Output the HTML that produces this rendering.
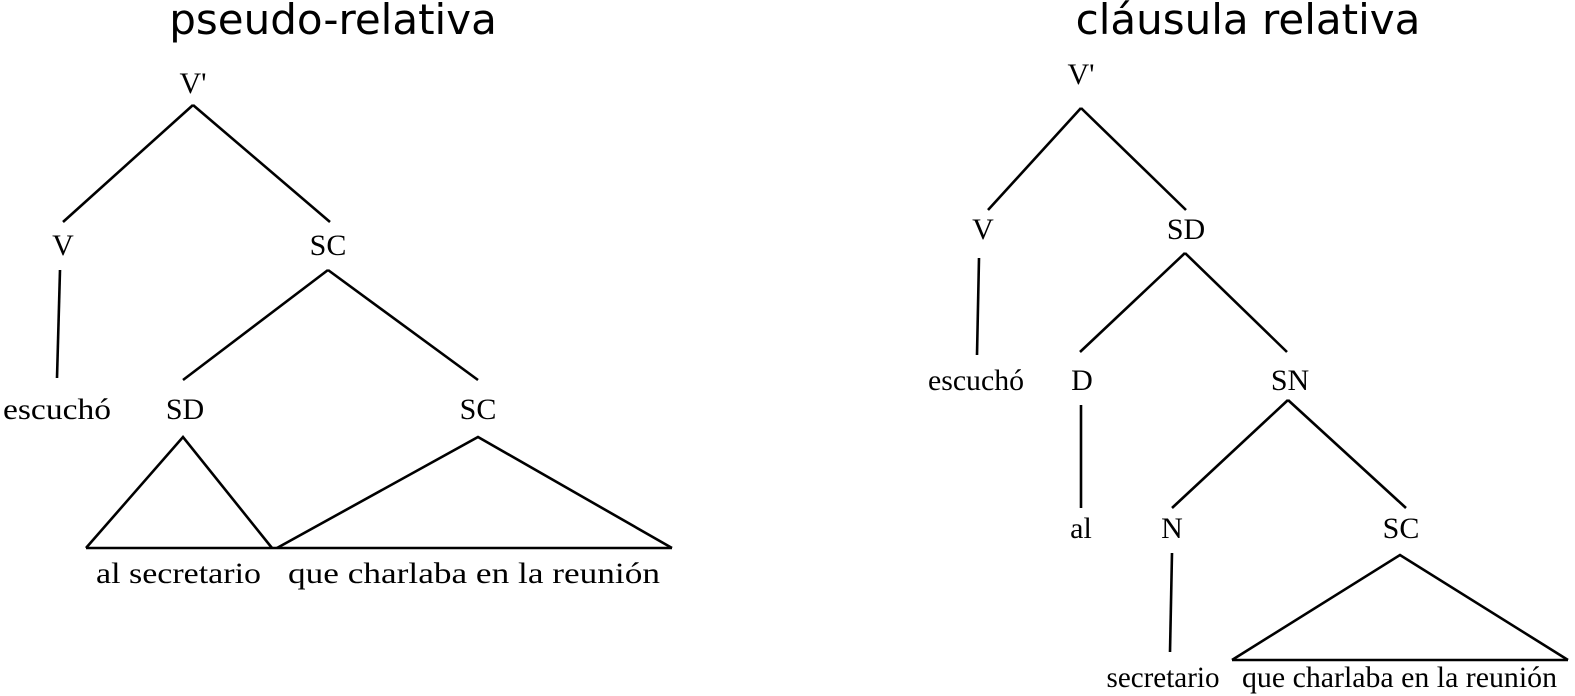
<!DOCTYPE html>
<html><head><meta charset="utf-8"><style>
html,body{margin:0;padding:0;background:#fff;}
svg{display:block;}
.t{font-family:"DejaVu Sans","Liberation Sans",sans-serif;font-size:42px;fill:#000;}
.l{font-family:"Liberation Serif",serif;font-size:30px;fill:#000;}
line,polyline{stroke:#000;stroke-width:2.6;fill:none;}
</style></head><body>
<svg width="1575" height="696" viewBox="0 0 1575 696">
<text class="t" x="333" y="34" text-anchor="middle">pseudo-relativa</text>
<text class="l" x="193" y="93" text-anchor="middle">V'</text>
<line x1="193" y1="105" x2="63" y2="222"/><line x1="193" y1="105" x2="330" y2="222"/>
<text class="l" x="63" y="255" text-anchor="middle">V</text>
<text class="l" x="328" y="255" text-anchor="middle">SC</text>
<line x1="60" y1="270" x2="57" y2="378"/>
<line x1="328" y1="270" x2="183" y2="380"/><line x1="328" y1="270" x2="478" y2="380"/>
<text class="l" x="57" y="419" text-anchor="middle" textLength="108" lengthAdjust="spacingAndGlyphs">escuchó</text>
<text class="l" x="185" y="419" text-anchor="middle">SD</text>
<text class="l" x="478" y="419" text-anchor="middle">SC</text>
<polyline points="86,548 183,437 272,548"/>
<polyline points="277,548 478,437 672,548"/>
<line x1="86" y1="548" x2="672" y2="548"/>
<text class="l" x="96" y="583" textLength="165" lengthAdjust="spacingAndGlyphs">al secretario</text>
<text class="l" x="288" y="583" textLength="372" lengthAdjust="spacingAndGlyphs">que charlaba en la reunión</text>

<text class="t" x="1248" y="34" text-anchor="middle">cláusula relativa</text>
<text class="l" x="1081" y="84" text-anchor="middle">V'</text>
<line x1="1081" y1="108" x2="988" y2="210"/><line x1="1081" y1="108" x2="1186" y2="210"/>
<text class="l" x="983" y="239" text-anchor="middle">V</text>
<text class="l" x="1186" y="239" text-anchor="middle">SD</text>
<line x1="979" y1="258" x2="977" y2="355"/>
<line x1="1185" y1="253" x2="1080" y2="352"/><line x1="1185" y1="253" x2="1287" y2="352"/>
<text class="l" x="976" y="390" text-anchor="middle" textLength="96" lengthAdjust="spacingAndGlyphs">escuchó</text>
<text class="l" x="1082" y="390" text-anchor="middle">D</text>
<text class="l" x="1290" y="390" text-anchor="middle">SN</text>
<line x1="1081" y1="405" x2="1081" y2="508"/>
<line x1="1288" y1="400" x2="1172" y2="508"/><line x1="1288" y1="400" x2="1406" y2="508"/>
<text class="l" x="1081" y="538" text-anchor="middle">al</text>
<text class="l" x="1172" y="538" text-anchor="middle">N</text>
<text class="l" x="1401" y="538" text-anchor="middle">SC</text>
<line x1="1172" y1="553" x2="1170" y2="652"/>
<polyline points="1232,660 1400,555 1568,660"/>
<line x1="1232" y1="660" x2="1568" y2="660"/>
<text class="l" x="1163" y="687" text-anchor="middle" textLength="113" lengthAdjust="spacingAndGlyphs">secretario</text>
<text class="l" x="1242" y="687" textLength="315" lengthAdjust="spacingAndGlyphs">que charlaba en la reunión</text>
</svg>
</body></html>
